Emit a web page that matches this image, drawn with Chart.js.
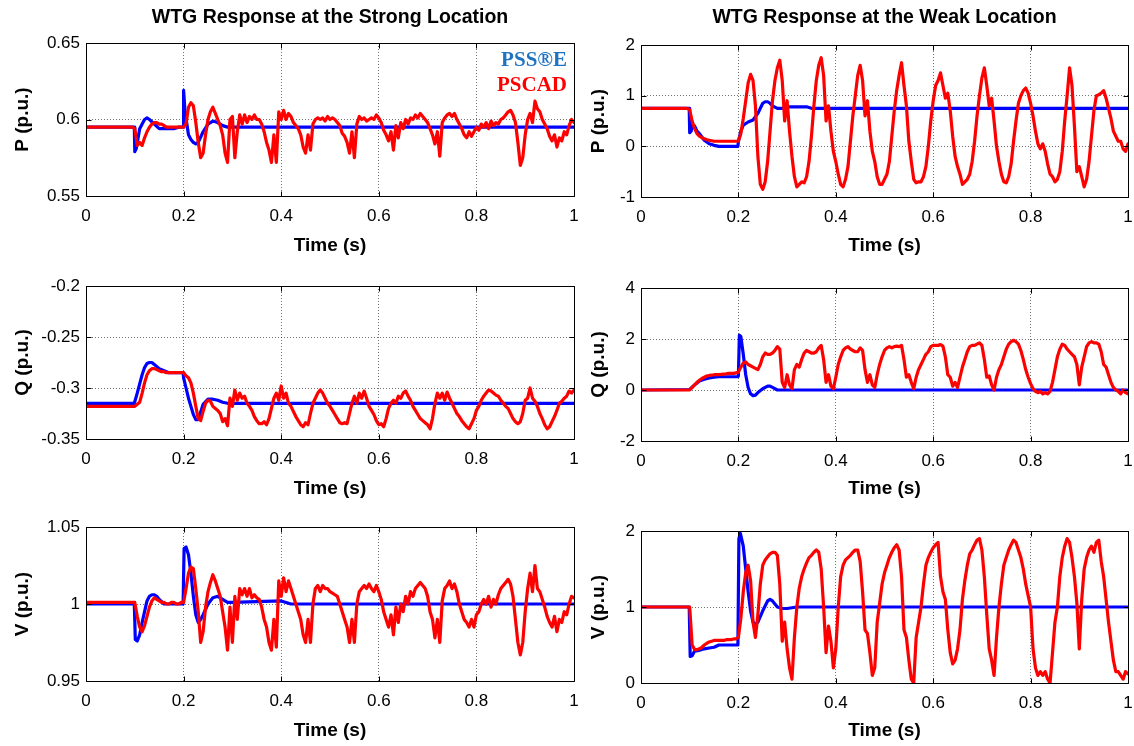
<!DOCTYPE html>
<html><head><meta charset="utf-8">
<script src="https://cdn.jsdelivr.net/npm/chart.js@4.4.1/dist/chart.umd.min.js"></script>
<style>
html,body{margin:0;padding:0;background:#fff;}
#wrap{position:relative;width:1134px;height:746px;overflow:hidden;background:#fff;}
canvas{position:absolute;}
</style></head><body><div id="wrap"></div>
<script>
// ---------- tick values / labels ----------
const X_TICKS = [0, 0.2, 0.4, 0.6, 0.8, 1];
const X_LABELS = ['0', '0.2', '0.4', '0.6', '0.8', '1'];
const PS_TICKS = [0.55, 0.6, 0.65];      const PS_LABELS = ['0.55', '0.6', '0.65'];
const QS_TICKS = [-0.35, -0.3, -0.25, -0.2]; const QS_LABELS = ['-0.35', '-0.3', '-0.25', '-0.2'];
const VS_TICKS = [0.95, 1, 1.05];        const VS_LABELS = ['0.95', '1', '1.05'];
const PW_TICKS = [-1, 0, 1, 2];          const PW_LABELS = ['-1', '0', '1', '2'];
const QW_TICKS = [-2, 0, 2, 4];          const QW_LABELS = ['-2', '0', '2', '4'];
const VW_TICKS = [0, 1, 2];              const VW_LABELS = ['0', '1', '2'];

// ---------- PSCAD (red) series, sampled every 0.005 s from 0 to 1 s ----------
const T_RED = Array.from({length: 201}, (_, i) => +(i * 0.005).toFixed(3));

const PS_RED = [
0.595,0.595,0.595,0.595,0.595,0.595,0.595,0.595,0.595,0.595,
0.595,0.595,0.595,0.595,0.595,0.595,0.595,0.595,0.595,0.595,
0.594,0.583,0.585,0.583,0.588,0.592,0.595,0.597,0.598,0.598,
0.597,0.597,0.596,0.595,0.595,0.595,0.595,0.595,0.595,0.595,
0.595,0.597,0.608,0.611,0.609,0.598,0.585,0.575,0.578,0.590,
0.600,0.605,0.608,0.604,0.600,0.596,0.590,0.578,0.572,0.600,
0.602,0.575,0.592,0.603,0.597,0.603,0.598,0.602,0.600,0.603,
0.600,0.600,0.597,0.592,0.585,0.580,0.572,0.590,0.572,0.605,
0.600,0.606,0.600,0.604,0.602,0.598,0.596,0.594,0.590,0.582,
0.578,0.590,0.580,0.597,0.600,0.601,0.600,0.601,0.599,0.602,
0.600,0.601,0.600,0.598,0.596,0.591,0.589,0.585,0.578,0.592,
0.575,0.597,0.602,0.600,0.601,0.599,0.600,0.601,0.600,0.603,
0.601,0.598,0.593,0.590,0.586,0.592,0.580,0.596,0.588,0.598,
0.594,0.600,0.597,0.601,0.600,0.603,0.601,0.604,0.602,0.600,
0.598,0.594,0.590,0.584,0.592,0.576,0.598,0.601,0.603,0.604,
0.602,0.604,0.600,0.597,0.594,0.590,0.588,0.592,0.589,0.592,
0.595,0.593,0.597,0.595,0.598,0.594,0.599,0.596,0.598,0.597,
0.600,0.601,0.603,0.605,0.606,0.603,0.598,0.585,0.570,0.575,
0.590,0.600,0.604,0.598,0.612,0.607,0.605,0.600,0.597,0.594,
0.589,0.586,0.590,0.582,0.588,0.586,0.592,0.590,0.596,0.600,
0.598];

const PW_RED = [
0.75,0.75,0.75,0.75,0.75,0.75,0.75,0.75,0.75,0.75,
0.75,0.75,0.75,0.75,0.75,0.75,0.75,0.75,0.75,0.75,
0.72,0.50,0.35,0.25,0.20,0.17,0.15,0.13,0.12,0.11,
0.10,0.10,0.10,0.10,0.10,0.10,0.10,0.10,0.10,0.10,
0.10,0.25,0.55,0.90,1.25,1.42,1.30,0.80,-0.20,-0.75,
-0.85,-0.70,-0.30,0.30,0.90,1.30,1.55,1.70,1.30,0.50,
0.90,0.30,-0.20,-0.60,-0.80,-0.75,-0.70,-0.72,-0.60,-0.30,
0.20,0.80,1.30,1.60,1.75,1.40,0.50,0.80,0.30,-0.10,
-0.30,-0.55,-0.75,-0.80,-0.65,-0.40,0.10,0.60,1.00,1.40,
1.60,1.30,0.60,0.90,0.30,-0.10,-0.30,-0.60,-0.75,-0.75,
-0.65,-0.55,-0.30,0.20,0.70,1.10,1.40,1.65,1.20,0.80,
0.10,-0.30,-0.65,-0.72,-0.70,-0.70,-0.60,-0.40,0.00,0.50,
0.90,1.20,1.30,1.45,1.20,0.95,1.05,0.70,0.20,-0.20,
-0.40,-0.55,-0.75,-0.70,-0.65,-0.55,-0.30,0.10,0.60,1.00,
1.35,1.55,1.20,0.80,0.95,0.50,0.00,-0.30,-0.55,-0.70,
-0.72,-0.60,-0.35,0.10,0.50,0.85,1.00,1.10,1.15,1.05,
0.85,0.60,0.30,0.05,-0.05,0.05,-0.10,-0.35,-0.55,-0.60,
-0.70,-0.65,-0.50,-0.10,0.50,1.00,1.55,1.20,0.40,-0.50,
-0.40,-0.60,-0.80,-0.65,-0.30,0.20,0.70,1.00,1.02,1.05,
1.10,0.95,0.75,0.55,0.30,0.20,0.10,0.10,-0.05,-0.10,
0.05];

const QS_RED = [
-0.318,-0.318,-0.318,-0.318,-0.318,-0.318,-0.318,-0.318,-0.318,-0.318,
-0.318,-0.318,-0.318,-0.318,-0.318,-0.318,-0.318,-0.318,-0.318,-0.318,
-0.318,-0.316,-0.314,-0.305,-0.295,-0.287,-0.283,-0.281,-0.281,-0.282,
-0.283,-0.284,-0.284,-0.285,-0.285,-0.285,-0.285,-0.285,-0.285,-0.285,
-0.285,-0.288,-0.290,-0.295,-0.305,-0.318,-0.330,-0.332,-0.323,-0.315,
-0.312,-0.313,-0.318,-0.320,-0.322,-0.325,-0.333,-0.330,-0.337,-0.310,
-0.318,-0.302,-0.312,-0.305,-0.310,-0.308,-0.315,-0.318,-0.322,-0.328,
-0.332,-0.335,-0.335,-0.333,-0.336,-0.330,-0.320,-0.310,-0.305,-0.312,
-0.298,-0.310,-0.305,-0.315,-0.318,-0.323,-0.328,-0.332,-0.336,-0.338,
-0.334,-0.336,-0.325,-0.315,-0.310,-0.305,-0.302,-0.305,-0.310,-0.315,
-0.318,-0.322,-0.326,-0.330,-0.334,-0.335,-0.334,-0.335,-0.325,-0.315,
-0.308,-0.315,-0.305,-0.310,-0.303,-0.310,-0.318,-0.322,-0.326,-0.332,
-0.336,-0.335,-0.338,-0.330,-0.320,-0.315,-0.312,-0.315,-0.308,-0.310,
-0.305,-0.303,-0.308,-0.312,-0.318,-0.322,-0.326,-0.330,-0.332,-0.334,
-0.336,-0.340,-0.330,-0.315,-0.305,-0.310,-0.305,-0.312,-0.304,-0.310,
-0.315,-0.320,-0.325,-0.328,-0.332,-0.335,-0.338,-0.340,-0.335,-0.330,
-0.322,-0.318,-0.312,-0.308,-0.305,-0.302,-0.303,-0.305,-0.307,-0.308,
-0.312,-0.315,-0.318,-0.320,-0.325,-0.330,-0.333,-0.335,-0.333,-0.325,
-0.312,-0.310,-0.300,-0.310,-0.313,-0.318,-0.325,-0.330,-0.336,-0.340,
-0.338,-0.333,-0.328,-0.322,-0.315,-0.313,-0.310,-0.308,-0.303,-0.305,
-0.302];

const QW_RED = [
0,0,0,0,0,0,0,0,0,0,
0,0,0,0,0,0,0,0,0,0,
0.00,0.10,0.20,0.30,0.38,0.45,0.50,0.55,0.57,0.58,
0.60,0.60,0.60,0.61,0.62,0.63,0.65,0.65,0.65,0.67,
0.70,0.90,1.05,1.10,1.00,0.95,0.90,0.85,0.80,1.00,
1.30,1.45,1.40,1.40,1.45,1.55,1.70,1.60,0.30,0.10,
0.60,0.20,0.05,0.80,1.00,0.90,1.20,1.45,1.55,1.50,
1.45,1.45,1.50,1.65,1.75,1.20,0.30,0.60,0.15,0.05,
0.50,1.00,1.30,1.55,1.65,1.70,1.60,1.55,1.50,1.50,
1.65,1.55,0.80,0.30,0.60,0.20,0.10,0.60,1.00,1.30,
1.55,1.65,1.70,1.65,1.70,1.72,1.70,1.75,1.20,0.50,
0.60,0.30,0.05,0.50,0.80,1.00,1.20,1.40,1.50,1.70,
1.75,1.75,1.75,1.78,1.72,1.30,0.60,0.50,0.15,0.30,
0.10,0.50,0.90,1.20,1.50,1.70,1.75,1.75,1.80,1.85,
1.75,1.20,0.50,0.55,0.20,0.00,0.50,0.80,1.00,1.30,
1.60,1.80,1.90,1.95,1.90,1.80,1.55,1.20,0.80,0.50,
0.25,0.05,-0.05,-0.10,-0.05,-0.15,-0.10,-0.15,-0.05,0.30,
0.80,1.30,1.60,1.80,1.75,1.60,1.50,1.40,1.30,1.00,
0.20,0.90,1.30,1.70,1.85,1.90,1.85,1.85,1.80,1.50,
1.00,0.90,0.60,0.30,0.10,0.00,-0.05,-0.15,0.00,-0.10,
-0.15];

const VS_RED = [
1.001,1.001,1.001,1.001,1.001,1.001,1.001,1.001,1.001,1.001,
1.001,1.001,1.001,1.001,1.001,1.001,1.001,1.001,1.001,1.001,
1.001,0.992,0.985,0.982,0.986,0.992,0.998,1.002,1.004,1.003,
1.002,1.001,1.001,1.000,1.000,1.001,1.001,1.000,1.000,1.001,
1.001,1.010,1.020,1.024,1.023,1.010,0.995,0.975,0.982,0.998,
1.008,1.014,1.019,1.015,1.010,1.005,0.995,0.985,0.970,0.998,
0.975,1.005,0.990,1.010,1.006,1.010,1.005,1.010,1.004,1.006,
1.004,1.003,0.998,0.990,0.985,0.975,0.970,0.990,0.972,1.015,
1.005,1.017,1.008,1.015,1.010,1.005,1.000,0.995,0.990,0.980,
0.975,0.990,0.975,1.000,1.010,1.012,1.008,1.012,1.010,1.010,
1.008,1.007,1.006,1.005,1.000,0.995,0.990,0.985,0.975,0.990,
0.975,1.000,1.008,1.010,1.012,1.010,1.013,1.010,1.008,1.012,
1.008,1.003,0.995,0.990,0.985,0.993,0.980,0.998,0.988,1.000,
0.995,1.005,1.000,1.008,1.005,1.010,1.012,1.014,1.012,1.010,
1.005,0.995,0.990,0.978,0.990,0.975,1.002,1.010,1.012,1.015,
1.010,1.013,1.008,1.000,0.995,0.990,0.988,0.985,0.990,0.985,
0.993,0.995,1.000,1.003,1.000,1.005,0.998,1.003,1.000,1.006,
1.010,1.012,1.014,1.016,1.013,1.005,0.990,0.975,0.967,0.975,
0.995,1.010,1.020,1.008,1.025,1.010,1.008,1.003,0.998,0.992,
0.988,0.985,0.992,0.982,0.990,0.988,0.995,0.993,1.000,1.005,
1.004];

const VW_RED = [
1.00,1.00,1.00,1.00,1.00,1.00,1.00,1.00,1.00,1.00,
1.00,1.00,1.00,1.00,1.00,1.00,1.00,1.00,1.00,1.00,
1.00,0.50,0.44,0.44,0.45,0.47,0.50,0.52,0.54,0.55,
0.56,0.56,0.56,0.56,0.56,0.57,0.57,0.57,0.58,0.58,
0.60,0.85,1.20,1.45,1.55,1.35,0.80,0.60,0.90,1.30,
1.55,1.62,1.66,1.70,1.72,1.72,1.68,1.30,0.55,0.80,
0.45,0.20,0.05,0.60,1.00,1.25,1.40,1.50,1.58,1.65,
1.68,1.72,1.75,1.72,1.50,1.00,0.40,0.75,0.55,0.20,
0.45,1.00,1.40,1.55,1.62,1.65,1.68,1.72,1.75,1.75,
1.60,1.20,0.70,0.65,0.40,0.10,0.20,0.80,1.05,1.30,
1.45,1.55,1.65,1.72,1.78,1.82,1.75,1.40,0.70,0.60,
0.30,0.05,0.00,0.60,0.80,1.00,1.30,1.55,1.65,1.72,
1.78,1.82,1.85,1.40,1.20,1.10,0.70,0.40,0.25,0.30,
0.45,0.70,1.10,1.35,1.55,1.70,1.75,1.82,1.88,1.90,
1.75,1.40,0.90,0.45,0.30,0.10,0.60,1.00,1.30,1.55,
1.65,1.75,1.82,1.88,1.85,1.75,1.65,1.50,1.30,1.15,
1.00,0.45,0.20,0.10,0.15,0.10,0.15,0.05,0.00,0.40,
0.80,1.00,1.40,1.65,1.80,1.90,1.85,1.65,1.40,1.05,
0.45,1.10,1.50,1.65,1.75,1.80,1.72,1.85,1.88,1.60,
1.40,1.10,0.80,0.55,0.30,0.15,0.15,0.10,0.05,0.15,
0.12];

// ---------- PSS®E (blue) series: time / value breakpoints ----------
const PS_BLUE_T = [0,0.099,0.1,0.103,0.11,0.12,0.125,0.13,0.14,0.15,0.16,0.18,0.19,0.199,0.2,0.203,0.21,0.215,0.22,0.225,0.23,0.24,0.25,0.26,0.27,0.28,0.29,1.0];
const PS_BLUE_V = [0.595,0.595,0.579,0.581,0.594,0.600,0.601,0.600,0.597,0.594,0.594,0.594,0.595,0.595,0.619,0.605,0.590,0.587,0.585,0.584,0.585,0.592,0.597,0.599,0.598,0.596,0.595,0.595];

const PW_BLUE_T = [0,0.099,0.1,0.103,0.105,0.11,0.115,0.12,0.13,0.14,0.15,0.16,0.199,0.2,0.205,0.21,0.22,0.23,0.24,0.25,0.255,0.26,0.265,0.27,0.28,0.29,0.3,0.34,0.35,1.0];
const PW_BLUE_V = [0.75,0.75,0.27,0.30,0.42,0.40,0.30,0.25,0.12,0.05,0.02,0.00,0.00,0.10,0.30,0.42,0.48,0.52,0.65,0.85,0.88,0.88,0.85,0.80,0.75,0.75,0.78,0.78,0.75,0.75];

const QS_BLUE_T = [0,0.099,0.105,0.11,0.115,0.12,0.125,0.13,0.135,0.14,0.15,0.16,0.17,0.199,0.2,0.205,0.21,0.215,0.22,0.225,0.23,0.24,0.25,0.26,0.27,0.28,0.29,1.0];
const QS_BLUE_V = [-0.315,-0.315,-0.305,-0.296,-0.287,-0.280,-0.276,-0.275,-0.275,-0.277,-0.281,-0.283,-0.285,-0.285,-0.290,-0.300,-0.310,-0.318,-0.326,-0.331,-0.331,-0.316,-0.311,-0.311,-0.312,-0.314,-0.315,-0.315];

const QW_BLUE_T = [0,0.1,0.11,0.12,0.13,0.14,0.15,0.16,0.199,0.2,0.202,0.205,0.21,0.215,0.22,0.225,0.23,0.235,0.24,0.25,0.26,0.265,0.27,0.28,1.0];
const QW_BLUE_V = [0,0.02,0.20,0.35,0.42,0.47,0.50,0.52,0.52,0.55,2.15,2.10,1.40,0.60,0.10,-0.15,-0.22,-0.20,-0.10,0.05,0.15,0.15,0.10,0.00,0.00];

const VS_BLUE_T = [0,0.099,0.101,0.105,0.11,0.115,0.12,0.125,0.13,0.135,0.14,0.145,0.15,0.16,0.199,0.201,0.205,0.21,0.215,0.22,0.225,0.23,0.235,0.24,0.25,0.26,0.27,0.28,0.29,0.3,0.4,0.42,1.0];
const VS_BLUE_V = [1.0,1.0,0.977,0.976,0.980,0.988,0.995,1.002,1.005,1.006,1.006,1.005,1.003,1.000,1.000,1.036,1.037,1.032,1.020,1.005,0.993,0.988,0.990,0.993,1.000,1.004,1.005,1.003,1.001,1.001,1.002,1.000,1.000];

const VW_BLUE_T = [0,0.099,0.101,0.105,0.11,0.12,0.13,0.14,0.15,0.16,0.199,0.201,0.204,0.21,0.215,0.22,0.225,0.23,0.235,0.24,0.25,0.26,0.265,0.27,0.28,0.29,0.3,0.31,0.32,1.0];
const VW_BLUE_V = [1.0,1.0,0.35,0.36,0.42,0.43,0.45,0.46,0.47,0.50,0.50,1.90,1.97,1.80,1.50,1.20,0.95,0.80,0.77,0.80,0.95,1.08,1.10,1.08,1.00,0.98,0.98,0.99,1.00,1.00];

const SERIES_NAMES = ['PSS®E', 'PSCAD'];
const TITLES = ['WTG Response at the Strong Location', 'WTG Response at the Weak Location'];

// ---------- helpers ----------
[['PS_RED',PS_RED],['PW_RED',PW_RED],['QS_RED',QS_RED],['QW_RED',QW_RED],['VS_RED',VS_RED],['VW_RED',VW_RED]]
  .forEach(([n,a]) => { if (a.length !== T_RED.length) throw new Error(n + ' has ' + a.length); });

const pair = (t, v) => t.map((x, i) => ({x: x, y: v[i]}));
const FONT = "'Liberation Sans', Arial, Helvetica, sans-serif";
Chart.defaults.color = '#000';
Chart.defaults.font.family = FONT;

const framePlugin = {
  id: 'frame',
  afterDatasetsDraw(chart) {
    const {ctx, chartArea: a, scales: {x, y}} = chart;
    ctx.save();
    ctx.strokeStyle = '#000';
    ctx.lineWidth = 1;
    ctx.beginPath();
    const L = Math.round(a.left) + 0.5, R = Math.round(a.right) + 0.5;
    const T = Math.round(a.top) + 0.5, B = Math.round(a.bottom) + 0.5;
    ctx.rect(L, T, R - L, B - T);
    x.ticks.forEach(t => {
      const px = Math.round(x.getPixelForValue(t.value)) + 0.5;
      ctx.moveTo(px, B); ctx.lineTo(px, B - 5);
      ctx.moveTo(px, T); ctx.lineTo(px, T + 5);
    });
    y.ticks.forEach(t => {
      const py = Math.round(y.getPixelForValue(t.value)) + 0.5;
      ctx.moveTo(L, py); ctx.lineTo(L + 5, py);
      ctx.moveTo(R, py); ctx.lineTo(R - 5, py);
    });
    ctx.stroke();
    ctx.restore();
  }
};

const legendPlugin = {
  id: 'textLegend',
  afterDatasetsDraw(chart, args, opts) {
    if (!opts.show) return;
    const {ctx, chartArea: a} = chart;
    ctx.save();
    ctx.font = "bold 21px 'Liberation Serif', 'Times New Roman', serif";
    ctx.textAlign = 'right';
    ctx.textBaseline = 'middle';
    ctx.fillStyle = '#1f74c2';
    ctx.fillText(SERIES_NAMES[0], a.right - 7, a.top + 18);
    ctx.fillStyle = '#ff0000';
    ctx.fillText(SERIES_NAMES[1], a.right - 7, a.top + 43);
    ctx.restore();
  }
};

const wrap = document.getElementById('wrap');

function build(s) {
  const [cx, cy, cw, ch] = s.canvas;
  const c = document.createElement('canvas');
  c.width = cw; c.height = ch;
  c.style.left = cx + 'px'; c.style.top = cy + 'px';
  c.style.width = cw + 'px'; c.style.height = ch + 'px';
  wrap.appendChild(c);
  const titleSize = 19.5, titleLH = titleSize * 1.2;
  const titleTop = 5.5;
  const rightGap = (cx + cw) - s.plot[2];
  new Chart(c, {
    type: 'line',
    data: {
      datasets: [
        { label: SERIES_NAMES[1], data: pair(T_RED, s.red), borderColor: '#ff0000', borderWidth: 3.2,
          pointRadius: 0, tension: 0, fill: false, borderJoinStyle: 'round', borderCapStyle: 'round' },
        { label: SERIES_NAMES[0], data: pair(s.bt, s.bv), borderColor: '#0000ff', borderWidth: 3.2,
          pointRadius: 0, tension: 0, fill: false, borderJoinStyle: 'round', borderCapStyle: 'round' }
      ]
    },
    options: {
      responsive: false, animation: false, devicePixelRatio: 1,
      events: [],
      layout: { padding: { left: 0, top: s.title ? 0 : s.plot[1] - cy, right: 0, bottom: 0 } },
      plugins: {
        legend: { display: false },
        tooltip: { enabled: false },
        title: s.title ? {
          display: true, text: s.title, fullSize: false, color: '#000',
          font: { family: FONT, size: titleSize, weight: 'bold', lineHeight: 1.2 },
          padding: { top: titleTop, bottom: (s.plot[1] - cy) - titleTop - titleLH }
        } : { display: false },
        textLegend: { show: !!s.legend }
      },
      scales: {
        x: {
          type: 'linear', min: 0, max: 1,
          afterBuildTicks: ax => { ax.ticks = X_TICKS.map(v => ({value: v})); },
          afterFit: ax => { ax.height = (cy + ch) - s.plot[3]; ax.paddingLeft = 0; ax.paddingRight = rightGap; },
          ticks: { callback: (v, i) => X_LABELS[i], font: { size: 17 }, color: '#000', padding: 10, maxRotation: 0, autoSkip: false },
          grid: { color: 'rgba(0,0,0,0.55)', lineWidth: 1, drawTicks: false },
          border: { display: false, dash: [1, 2] },
          title: { display: true, text: 'Time (s)', color: '#000', font: { size: 19, weight: 'bold', lineHeight: 1.2 },
                   padding: { top: 0, bottom: s.xtPad } }
        },
        y: {
          type: 'linear', min: s.yt[0], max: s.yt[s.yt.length - 1],
          afterBuildTicks: ax => { ax.ticks = s.yt.map(v => ({value: v})); },
          afterFit: ax => { ax.width = s.plot[0] - cx; ax.paddingTop = 0; ax.paddingBottom = 0; },
          ticks: { callback: (v, i) => s.yl[i], font: { size: 17 }, color: '#000', padding: 6, autoSkip: false },
          grid: { color: 'rgba(0,0,0,0.55)', lineWidth: 1, drawTicks: false },
          border: { display: false, dash: [1, 2] },
          title: { display: true, text: s.ylabel, color: '#000', font: { size: 19, weight: 'bold', lineHeight: 1.2 },
                   padding: { top: s.ytPad, bottom: 0 } }
        }
      }
    },
    plugins: [framePlugin, legendPlugin]
  });
}

// left column: canvas 0..580 ; right column: canvas 580..1134
const charts = [
  { canvas: [0, 0, 580, 262],   plot: [86, 43, 574, 196],  red: PS_RED, bt: PS_BLUE_T, bv: PS_BLUE_V, yt: PS_TICKS, yl: PS_LABELS, ylabel: 'P (p.u.)', title: TITLES[0], legend: true, xtPad: 4.6, ytPad: 11.6 },
  { canvas: [0, 262, 580, 243], plot: [86, 286, 574, 439], red: QS_RED, bt: QS_BLUE_T, bv: QS_BLUE_V, yt: QS_TICKS, yl: QS_LABELS, ylabel: 'Q (p.u.)', xtPad: 4.6, ytPad: 11.6 },
  { canvas: [0, 505, 580, 241], plot: [86, 527, 574, 681], red: VS_RED, bt: VS_BLUE_T, bv: VS_BLUE_V, yt: VS_TICKS, yl: VS_LABELS, ylabel: 'V (p.u.)', xtPad: 3.6, ytPad: 11.6 },
  { canvas: [580, 0, 554, 262],   plot: [641, 45, 1128, 197],  red: PW_RED, bt: PW_BLUE_T, bv: PW_BLUE_V, yt: PW_TICKS, yl: PW_LABELS, ylabel: 'P (p.u.)', title: TITLES[1], xtPad: 4.6, ytPad: 7.6 },
  { canvas: [580, 262, 554, 243], plot: [641, 288, 1128, 441], red: QW_RED, bt: QW_BLUE_T, bv: QW_BLUE_V, yt: QW_TICKS, yl: QW_LABELS, ylabel: 'Q (p.u.)', xtPad: 4.6, ytPad: 7.6 },
  { canvas: [580, 505, 554, 241], plot: [641, 531, 1128, 683], red: VW_RED, bt: VW_BLUE_T, bv: VW_BLUE_V, yt: VW_TICKS, yl: VW_LABELS, ylabel: 'V (p.u.)', xtPad: 3.6, ytPad: 7.6 }
];
charts.forEach(build);
</script>
</body></html>
